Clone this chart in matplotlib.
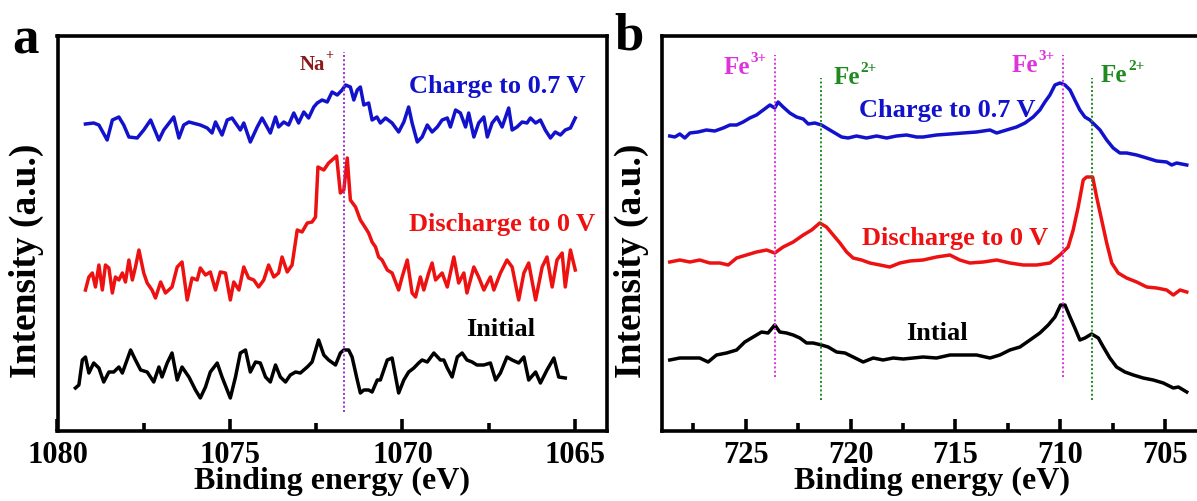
import matplotlib
matplotlib.use("Agg")
import matplotlib.pyplot as plt
from matplotlib.ticker import MultipleLocator

plt.rcParams['font.family'] = ['Liberation Serif', 'DejaVu Serif']
plt.rcParams['font.weight'] = 'bold'

# ---------------- Panel a : Na 1s ----------------
charge_a_energy = [
    1079.19, 1078.95, 1078.80, 1078.56, 1078.41, 1078.22, 1078.08, 1077.93, 1077.69, 1077.50,
    1077.30, 1077.06, 1076.92, 1076.63, 1076.48, 1076.34, 1076.19, 1075.86, 1075.66, 1075.52,
    1075.42, 1075.23, 1075.08, 1074.94, 1074.70, 1074.60, 1074.41, 1074.21, 1074.07, 1073.83,
    1073.68, 1073.59, 1073.44, 1073.30, 1073.15, 1073.01, 1072.86, 1072.72, 1072.57, 1072.47,
    1072.33, 1072.18, 1072.04, 1071.89, 1071.75, 1071.65, 1071.51, 1071.41, 1071.31, 1071.22,
    1071.12, 1070.98, 1070.88, 1070.74, 1070.64, 1070.49, 1070.30, 1070.11, 1069.96, 1069.82,
    1069.72, 1069.57, 1069.43, 1069.28, 1069.14, 1068.99, 1068.85, 1068.70, 1068.61, 1068.46,
    1068.32, 1068.17, 1068.08, 1067.93, 1067.79, 1067.64, 1067.54, 1067.40, 1067.26, 1067.11,
    1066.92, 1066.82, 1066.68, 1066.53, 1066.39, 1066.29, 1066.14, 1066.00, 1065.86, 1065.71,
    1065.57, 1065.42, 1065.28, 1065.13, 1064.99]
charge_a_int = [
    304, 305, 303, 288, 308, 311, 303, 291, 290, 298,
    308, 288, 298, 311, 290, 303, 306, 303, 300, 295,
    306, 293, 308, 310, 298, 305, 286, 301, 310, 295,
    311, 301, 306, 303, 315, 305, 316, 310, 321, 325,
    328, 326, 336, 333, 338, 343, 341, 328, 338, 341,
    323, 325, 308, 311, 305, 310, 305, 296, 306, 321,
    305, 286, 291, 303, 296, 301, 308, 310, 301, 318,
    315, 301, 315, 291, 305, 311, 291, 305, 311, 301,
    320, 298, 301, 306, 305, 310, 305, 308, 298, 290,
    296, 293, 298, 300, 310]

discharge_a_energy = [
    1079.19, 1079.09, 1078.99, 1078.90, 1078.80, 1078.70, 1078.61, 1078.51, 1078.41, 1078.32,
    1078.22, 1078.12, 1078.03, 1077.93, 1077.83, 1077.74, 1077.64, 1077.50, 1077.40, 1077.26,
    1077.16, 1077.01, 1076.87, 1076.68, 1076.53, 1076.39, 1076.24, 1076.10, 1075.95, 1075.86,
    1075.71, 1075.57, 1075.42, 1075.28, 1075.13, 1074.99, 1074.89, 1074.74, 1074.60, 1074.46,
    1074.31, 1074.17, 1074.02, 1073.88, 1073.73, 1073.59, 1073.49, 1073.34, 1073.20, 1073.05,
    1072.91, 1072.76, 1072.62, 1072.52, 1072.45, 1072.28, 1072.14, 1072.04, 1071.91, 1071.80,
    1071.70, 1071.60, 1071.51, 1071.36, 1071.22, 1071.07, 1070.98, 1070.88, 1070.78, 1070.69,
    1070.59, 1070.44, 1070.30, 1070.11, 1070.01, 1069.86, 1069.72, 1069.62, 1069.48, 1069.38,
    1069.24, 1069.14, 1069.04, 1068.85, 1068.70, 1068.51, 1068.37, 1068.22, 1068.13, 1067.93,
    1067.79, 1067.64, 1067.45, 1067.35, 1067.16, 1066.97, 1066.82, 1066.63, 1066.48, 1066.34,
    1066.14, 1065.95, 1065.81, 1065.66, 1065.52, 1065.37, 1065.28, 1065.13, 1064.99]
discharge_a_int = [
    138, 151, 155, 141, 163, 138, 163, 160, 135, 151,
    148, 155, 146, 168, 148, 161, 178, 155, 145, 138,
    130, 146, 135, 141, 161, 166, 128, 150, 148, 160,
    153, 156, 138, 156, 155, 128, 146, 138, 161, 150,
    148, 141, 148, 163, 151, 155, 171, 156, 163, 198,
    196, 205, 206, 211, 261, 258, 265, 268, 272, 235,
    238, 270, 228, 221, 208, 200, 195, 186, 181, 171,
    168, 158, 155, 138, 151, 168, 135, 131, 151, 138,
    155, 165, 148, 155, 141, 171, 145, 155, 135, 161,
    151, 138, 151, 138, 155, 168, 161, 128, 155, 165,
    128, 161, 171, 141, 168, 175, 141, 178, 158]

initial_a_energy = [
    1079.48, 1079.38, 1079.28, 1079.19, 1079.09, 1078.95, 1078.80, 1078.66, 1078.51, 1078.37,
    1078.22, 1078.12, 1077.88, 1077.74, 1077.59, 1077.40, 1077.21, 1077.06, 1076.97, 1076.82,
    1076.68, 1076.53, 1076.39, 1076.19, 1076.00, 1075.86, 1075.71, 1075.57, 1075.37, 1075.23,
    1074.99, 1074.84, 1074.70, 1074.55, 1074.41, 1074.26, 1074.12, 1073.97, 1073.83, 1073.68,
    1073.54, 1073.39, 1073.25, 1073.10, 1072.96, 1072.76, 1072.62, 1072.43, 1072.28, 1072.14,
    1071.94, 1071.80, 1071.70, 1071.56, 1071.46, 1071.31, 1071.22, 1071.12, 1070.98, 1070.88,
    1070.73, 1070.64, 1070.44, 1070.30, 1070.11, 1069.96, 1069.82, 1069.67, 1069.53, 1069.43,
    1069.28, 1069.09, 1068.90, 1068.80, 1068.70, 1068.56, 1068.41, 1068.27, 1068.13, 1067.98,
    1067.84, 1067.64, 1067.45, 1067.30, 1067.16, 1066.97, 1066.82, 1066.63, 1066.48, 1066.34,
    1066.14, 1066.00, 1065.81, 1065.61, 1065.47, 1065.28]
initial_a_int = [
    40, 43, 68, 71, 55, 65, 60, 46, 56, 56,
    61, 55, 78, 68, 58, 56, 46, 61, 51, 65,
    75, 48, 61, 51, 38, 30, 41, 56, 65, 51,
    30, 51, 75, 78, 56, 66, 65, 51, 46, 63,
    51, 46, 53, 56, 55, 61, 66, 88, 73, 68,
    63, 75, 78, 78, 71, 48, 35, 38, 38, 36,
    48, 48, 68, 70, 35, 48, 56, 60, 65, 68,
    66, 75, 68, 68, 60, 51, 71, 75, 68, 66,
    63, 63, 65, 48, 55, 71, 68, 65, 71, 48,
    56, 45, 58, 70, 51, 50]

na_line_energy = 1071.70

# ---------------- Panel b : Fe 2p ----------------
charge_b_energy = [
    728.63, 728.39, 728.15, 727.91, 727.67, 727.28, 726.88, 726.48, 726.08, 725.76,
    725.44, 725.13, 724.81, 724.49, 724.17, 723.85, 723.62, 723.46, 723.22, 722.90,
    722.58, 722.26, 722.02, 721.71, 721.39, 721.07, 720.75, 720.43, 720.12, 719.72,
    719.24, 718.76, 718.28, 717.81, 717.33, 716.85, 716.54, 715.90, 715.26, 714.63,
    713.99, 713.35, 713.03, 712.56, 712.08, 711.68, 711.29, 710.97, 710.73, 710.49,
    710.25, 710.01, 709.77, 709.53, 709.30, 709.06, 708.82, 708.58, 708.34, 708.10,
    707.78, 707.47, 707.15, 706.83, 706.35, 705.87, 705.40, 704.92, 704.68, 704.44,
    703.96]
charge_b_int = [
    292, 291, 294, 290, 295, 296, 298, 297, 300, 303,
    303, 306, 310, 313, 318, 323, 320, 326, 321, 315,
    311, 309, 304, 305, 303, 299, 295, 291, 290, 292,
    290, 292, 290, 292, 293, 291, 291, 293, 294, 295,
    296, 298, 295, 298, 301, 305, 311, 318, 326, 333,
    343, 345, 343, 338, 328, 318, 311, 308, 303, 298,
    288, 280, 275, 275, 273, 270, 267, 266, 263, 265,
    263]

discharge_b_energy = [
    728.63, 728.15, 727.67, 727.20, 726.72, 726.24, 725.84, 725.44, 724.97, 724.49,
    724.01, 723.62, 723.22, 722.74, 722.26, 721.86, 721.47, 721.15, 720.83, 720.51,
    720.19, 719.88, 719.48, 719.08, 718.60, 718.13, 717.65, 717.17, 716.54, 715.90,
    715.26, 714.79, 714.31, 713.67, 713.03, 712.40, 711.76, 711.12, 710.49, 710.01,
    709.62, 709.38, 709.14, 708.90, 708.74, 708.45, 708.26, 708.02, 707.78, 707.54,
    707.23, 706.83, 706.35, 705.87, 705.40, 704.92, 704.60, 704.28, 703.96]
discharge_b_int = [
    166, 168, 166, 168, 165, 165, 163, 170, 173, 176,
    178, 175, 181, 186, 193, 198, 205, 201, 193, 185,
    176, 170, 168, 165, 163, 161, 165, 167, 168, 171,
    173, 168, 165, 166, 168, 165, 163, 163, 165, 173,
    181, 198, 221, 248, 251, 251, 231, 208, 185, 165,
    155, 150, 146, 141, 140, 138, 133, 138, 136]

initial_b_energy = [
    728.63, 728.15, 727.67, 727.20, 726.80, 726.40, 725.92, 725.44, 725.05, 724.65,
    724.25, 723.94, 723.62, 723.38, 723.06, 722.74, 722.42, 722.10, 721.79, 721.39,
    721.07, 720.67, 720.27, 719.88, 719.40, 718.92, 718.45, 717.97, 717.49, 717.01,
    716.54, 715.90, 715.26, 714.63, 713.99, 713.35, 712.88, 712.40, 711.92, 711.44,
    710.97, 710.57, 710.25, 709.98, 709.77, 709.53, 709.30, 709.06, 708.82, 708.50,
    708.18, 707.94, 707.63, 707.31, 706.91, 706.51, 706.04, 705.56, 705.08, 704.60,
    704.36, 703.96]
initial_b_int = [
    68, 70, 70, 70, 66, 73, 75, 78, 86, 91,
    96, 95, 103, 96, 95, 93, 90, 85, 85, 83,
    81, 76, 75, 71, 66, 70, 68, 70, 69, 70,
    71, 70, 73, 73, 73, 70, 73, 78, 81, 88,
    95, 103, 111, 123, 123, 111, 100, 88, 90, 94,
    90, 81, 70, 61, 56, 53, 50, 48, 45, 40,
    41, 36]

fe3_lines = [723.62, 709.88]
fe2_lines = [721.42, 708.50]

BLUE = '#1212cc'
RED = '#ee1111'
BLACK = '#000000'
MAGENTA = '#dd33dd'
GREEN = '#1f8a1f'
NA_COLOR = '#8b1a1a'

W, H = 1197, 501
fig = plt.figure(figsize=(W / 100, H / 100), dpi=100)


def px_axes(left, right, top, bottom):
    return [left / W, (H - bottom) / H, (right - left) / W, (bottom - top) / H]


ax_a = fig.add_axes(px_axes(57.5, 607, 36, 431))
ax_b = fig.add_axes(px_axes(662, 1201, 36, 431))

LW = 2.5
for ax in (ax_a, ax_b):
    for sp in ax.spines.values():
        sp.set_linewidth(2.6)
    ax.set_yticks([])
    ax.set_ylim(-3, 392)
    ax.tick_params(axis='x', which='major', direction='in', length=9, width=2.6,
                   labelsize=22, pad=7, top=False)
    ax.tick_params(axis='x', which='minor', direction='in', length=6, width=2.6, top=False)
    ax.set_xlabel('Binding energy (eV)', fontsize=23, fontweight='bold', labelpad=-2)
    ax.set_ylabel('Intensity (a.u.)', fontsize=27, fontweight='bold')
    ax.yaxis.set_label_coords(-0.025, 0.43)
    ax.xaxis.set_major_locator(MultipleLocator(5))
    ax.xaxis.set_minor_locator(MultipleLocator(2.5))


def with_sup(ax, x, y, base, sup, color, size, supsize):
    # base text ends at the anchor, superscript starts there, raised
    ax.text(x, y, base, color=color, fontsize=size, ha='right', va='center')
    ax.annotate(sup, xy=(x, y), xycoords='data', xytext=(0.5, size * 0.12),
                textcoords='offset points', color=color, fontsize=supsize,
                ha='left', va='bottom')


# ---- panel a
ax_a.set_xlim(1080.0, 1064.07)
ax_a.plot(charge_a_energy, charge_a_int, color=BLUE, lw=LW)
ax_a.plot(discharge_a_energy, discharge_a_int, color=RED, lw=LW)
ax_a.plot(initial_a_energy, initial_a_int, color=BLACK, lw=LW)
ax_a.plot([na_line_energy, na_line_energy], [16, 376], color='#9b30c8', lw=1.4,
          ls=(0, (1, 1.2)))
with_sup(ax_a, 1072.25, 363, 'Na', '+', NA_COLOR, 15, 10)
ax_a.text(1067.25, 342, 'Charge to 0.7 V', color=BLUE, fontsize=19, ha='center', va='center')
ax_a.text(1067.1, 203, 'Discharge to 0 V', color=RED, fontsize=19, ha='center', va='center')
ax_a.text(1067.15, 98, 'Initial', color=BLACK, fontsize=19, ha='center', va='center')

# ---- panel b
ax_b.set_xlim(729.0, 703.28)
ax_b.plot(charge_b_energy, charge_b_int, color=BLUE, lw=LW)
ax_b.plot(discharge_b_energy, discharge_b_int, color=RED, lw=LW)
ax_b.plot(initial_b_energy, initial_b_int, color=BLACK, lw=LW)
for e in fe3_lines:
    ax_b.plot([e, e], [51, 373], color=MAGENTA, lw=1.4, ls=(0, (1, 1.2)))
for e in fe2_lines:
    ax_b.plot([e, e], [28, 350], color=GREEN, lw=1.4, ls=(0, (1, 1.2)))
with_sup(ax_b, 724.8, 360, 'Fe', '3+', MAGENTA, 18, 11)
with_sup(ax_b, 719.55, 350, 'Fe', '2+', GREEN, 18, 11)
with_sup(ax_b, 711.05, 362, 'Fe', '3+', MAGENTA, 18, 11)
with_sup(ax_b, 706.8, 352, 'Fe', '2+', GREEN, 18, 11)
ax_b.text(715.4, 318, 'Charge to 0.7 V', color=BLUE, fontsize=19, ha='center', va='center')
ax_b.text(715.0, 190, 'Discharge to 0 V', color=RED, fontsize=19, ha='center', va='center')
ax_b.text(715.9, 95, 'Intial', color=BLACK, fontsize=19, ha='center', va='center')

fig.text(12 / W, 1 - 40 / H, 'a', fontsize=38, fontweight='bold', ha='left', va='center')
fig.text(614 / W, 1 - 36 / H, 'b', fontsize=38, fontweight='bold', ha='left', va='center')

fig.savefig('out.png', dpi=100)
